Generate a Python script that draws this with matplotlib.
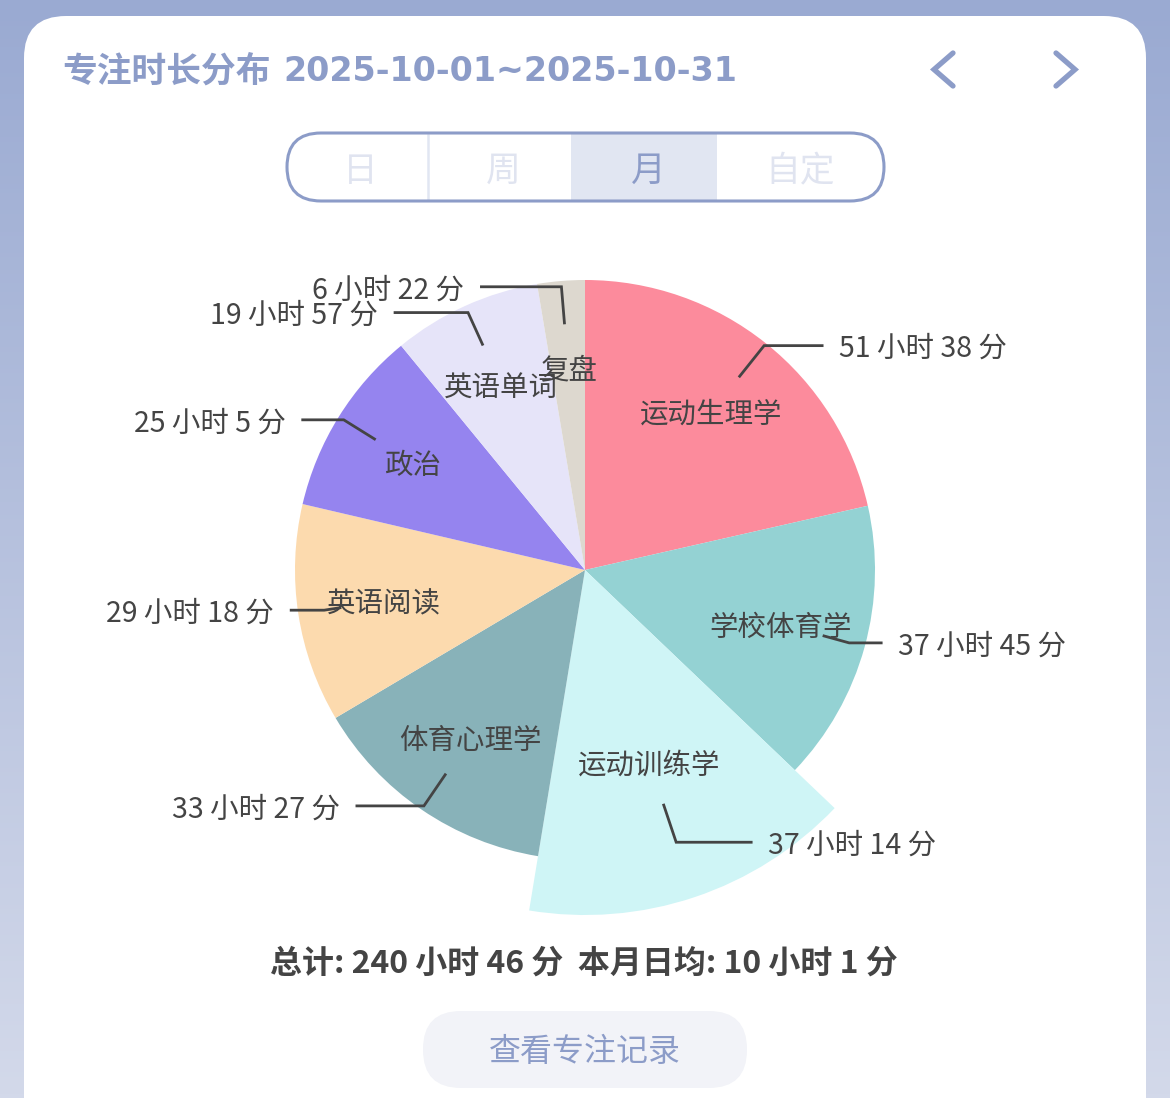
import numpy as np
import matplotlib
matplotlib.use('Agg')
import matplotlib.pyplot as plt
from matplotlib.patches import FancyBboxPatch, Rectangle

plt.rcParams['font.family'] = ['Noto Sans CJK SC', 'DejaVu Sans']

# data
subjects = ['运动生理学', '学校体育学', '运动训练学', '体育心理学', '英语阅读', '政治', '英语单词', '复盘']
hours = [51, 37, 37, 33, 29, 25, 19, 6]
mins = [38, 45, 14, 27, 18, 5, 57, 22]
colors = ['#FC8B9C', '#94D2D3', '#CFF5F6', '#88B2B9', '#FCDAAE', '#9584EF', '#E6E4F9', '#DDD8CF']
highlight = 2
tabs = ['日', '周', '月', '自定']
active_tab = 2
title_cn = '专注时长分布'
date_range = '2025-10-01~2025-10-31'
days_elapsed = 24

total_min = [h * 60 + m for h, m in zip(hours, mins)]
tot = sum(total_min)
avg = tot // days_elapsed

# label line styling (elbow radius fraction, horizontal length in px)
elbow_f = [0.99, 0.945, 0.99, 0.985, 0.91, 0.98, 0.975, 0.98]
leg2 = [58, 32, 75, 67, 33, 41, 73, 80]
dy = 3.5  # nudge CJK text down to sit like the reference

W, H = 1170, 1098
fig = plt.figure(figsize=(W / 100, H / 100), dpi=100)
ax = fig.add_axes([0, 0, 1, 1])

# page background gradient
grad = np.linspace(0, 1, 256).reshape(-1, 1)
top = np.array([0x9A, 0xAA, 0xD2]) / 255
bot = np.array([0xD3, 0xD9, 0xEA]) / 255
img = top + (bot - top) * grad[..., None]
ax.imshow(img, extent=(0, W, H, 0), aspect='auto', zorder=0)

# white card
ax.add_patch(FancyBboxPatch((24, 16), 1122, 1200, boxstyle='round,pad=0,rounding_size=42',
                            fc='white', ec='none', zorder=1))

accent = '#8C9CC8'
ax.text(62, 68 + dy, title_cn, fontsize=25, fontweight='bold', color=accent, ha='left', va='center', zorder=3)
ax.text(283, 68 + dy, date_range, fontsize=24, fontweight='bold', color=accent, ha='left', va='center',
        family=['DejaVu Sans'], zorder=3)

# nav arrows
ax.plot([953, 934, 953], [53, 69.5, 86], color=accent, lw=3.8, solid_capstyle='round',
        solid_joinstyle='miter', zorder=3)
ax.plot([1056, 1075, 1056], [53, 69.5, 86], color=accent, lw=3.8, solid_capstyle='round',
        solid_joinstyle='miter', zorder=3)

# segmented control
sx0, sx1, sy0, sy1 = 287, 884, 133, 201
edges = [sx0, 428, 571, 717, sx1]
tab_shift = [3, 4, 4, 0]
ax.add_patch(Rectangle((edges[active_tab], sy0 + 1), edges[active_tab + 1] - edges[active_tab],
                       sy1 - sy0 - 2, fc='#E1E6F2', ec='none', zorder=2))
ax.plot([428, 428], [sy0 + 2, sy1 - 2], color='#E1E6F2', lw=1.8, zorder=2)
ax.add_patch(FancyBboxPatch((sx0, sy0), sx1 - sx0, sy1 - sy0, boxstyle='round,pad=0,rounding_size=34',
                            fc='none', ec=accent, lw=2.2, zorder=3))
for i, t in enumerate(tabs):
    tx = (edges[i] + edges[i + 1]) / 2 + tab_shift[i]
    ax.text(tx, 168 + dy, t, fontsize=25, color=accent if i == active_tab else '#E0E4F0',
            ha='center', va='center', zorder=4)

# pie
cx, cy, R = 585, 570, 290
wedges, _ = ax.pie(total_min, colors=colors, radius=R, center=(cx, cy), startangle=-90,
                   counterclock=True, wedgeprops=dict(linewidth=0))
for w in wedges:
    w.set_zorder(2)
wedges[highlight].set_radius(345)

lc = '#444444'
for i, w in enumerate(wedges):
    mid = np.deg2rad((w.theta1 + w.theta2) / 2)
    ux, uy = np.cos(mid), np.sin(mid)
    ax.text(cx + 0.7 * R * ux, cy + 0.7 * R * uy + dy, subjects[i], fontsize=20.5, color=lc,
            ha='center', va='center', zorder=5)
    p0 = (cx + 0.855 * R * ux, cy + 0.855 * R * uy)
    p1 = (cx + elbow_f[i] * R * ux, cy + elbow_f[i] * R * uy)
    side = 1 if ux >= 0 else -1
    p2 = (p1[0] + side * leg2[i], p1[1])
    ax.plot([p0[0], p1[0], p2[0]], [p0[1], p1[1], p2[1]], color=lc, lw=2, zorder=4,
            solid_joinstyle='miter')
    ax.text(p2[0] + side * 17, p2[1] + dy, f'{hours[i]} 小时 {mins[i]} 分', fontsize=20.5, color=lc,
            ha='left' if side > 0 else 'right', va='center', zorder=5)

ax.text(584, 960 + dy, f'总计: {tot // 60} 小时 {tot % 60} 分  本月日均: {avg // 60} 小时 {avg % 60} 分',
        fontsize=23, fontweight='bold', color=lc, ha='center', va='center', zorder=5)

ax.add_patch(FancyBboxPatch((423, 1011), 324, 77, boxstyle='round,pad=0,rounding_size=38',
                            fc='#F2F3F8', ec='none', zorder=2))
ax.text(585, 1049 + dy, '查看专注记录', fontsize=23, color=accent, ha='center', va='center', zorder=3)

ax.set_xlim(0, W)
ax.set_ylim(H, 0)
ax.set_aspect('auto')
ax.axis('off')
fig.savefig('out.png', dpi=100)
